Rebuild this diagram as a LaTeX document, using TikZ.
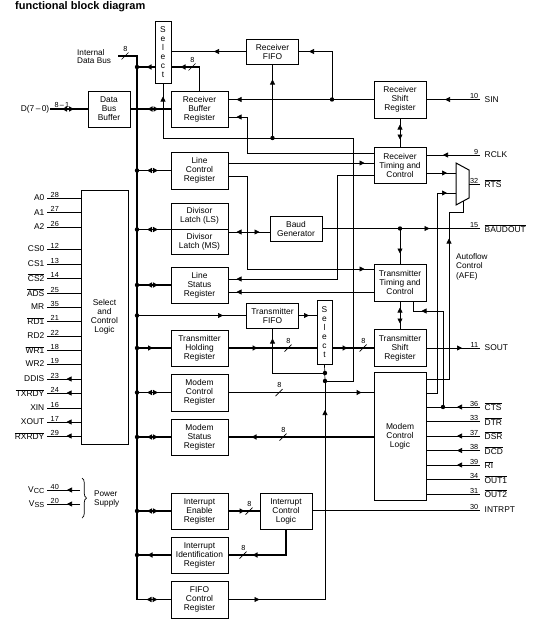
\documentclass[tikz,border=0pt]{standalone}
\usepackage{fontspec}
\setmainfont{Liberation Sans}
\usetikzlibrary{arrows.meta,calc,decorations.markings,decorations.pathreplacing}

\newcommand{\bfs}{\fontsize{8.4}{9}\selectfont}
\newcommand{\nfs}{\fontsize{7.3}{8}\selectfont}
\newcommand{\ovl}[1]{$\overline{\mbox{#1}}$}

\tikzset{
  tri/.tip={Triangle[length=5pt,width=5pt]},
  blk/.style={draw, line width=1pt, align=center, inner sep=1pt, font=\bfs},
  sig/.style={line width=0.7pt},
  bus/.style={line width=1.8pt},
  dot/.style={circle, fill, inner sep=0pt, minimum size=4.4pt},
  ar/.style={postaction={decorate,decoration={markings,mark=at position #1 with {\arrow{tri}}}}},
  ra/.style={postaction={decorate,decoration={markings,mark=at position #1 with {\arrowreversed{tri}}}}},
  pinl/.style={font=\bfs, inner sep=0.5pt},
  pinn/.style={font=\nfs, inner sep=0.5pt},
  bw/.pic={\draw[line width=0.7pt] (-3.5,3.5) -- (3.5,-3.5);
           \node[pinn, anchor=south] (-n) at (0.5,-4) {8};}
}

\begin{document}
\begin{tikzpicture}[x=1pt, y=-1pt, font=\bfs]
\path[use as bounding box, fill=white] (0,0) rectangle (535,621);

\node[font=\bfseries\fontsize{11}{13}\selectfont, anchor=west, inner sep=0pt] (title) at (15,7) {functional block diagram};

% blocks
\node[blk, minimum width=42, minimum height=36] (dbb) at (109,109) {Data\\Bus\\Buffer};
\node[blk, minimum width=16, minimum height=62] (sel1) at (163,52) {S\\e\\l\\e\\c\\t};
\node[blk, minimum width=57, minimum height=36] (rbr) at (199.5,109) {Receiver\\Buffer\\Register};
\node[blk, minimum width=52, minimum height=25] (rfifo) at (272.5,51.5) {Receiver\\FIFO};
\node[blk, minimum width=52, minimum height=37] (rsr) at (400,99.5) {Receiver\\Shift\\Register};
\node[blk, minimum width=52, minimum height=36] (rtc) at (400,165) {Receiver\\Timing and\\Control};
\node[blk, minimum width=57, minimum height=37] (lcr) at (199.5,170.5) {Line\\Control\\Register};
\node[blk, minimum width=57, minimum height=26] (dlls) at (199.5,216) {Divisor\\Latch (LS)};
\node[blk, minimum width=57, minimum height=25] (dlms) at (199.5,241.5) {Divisor\\Latch (MS)};
\node[blk, minimum width=52, minimum height=25] (baud) at (296,228.5) {Baud\\Generator};
\node[blk, minimum width=57, minimum height=36] (lsr) at (199.5,285) {Line\\Status\\Register};
\node[blk, minimum width=52, minimum height=37] (ttc) at (400,282.5) {Transmitter\\Timing and\\Control};
\node[blk, minimum width=52, minimum height=25] (tfifo) at (272.5,315.5) {Transmitter\\FIFO};
\node[blk, minimum width=15, minimum height=64] (sel2) at (324.5,332) {S\\e\\l\\e\\c\\t};
\node[blk, minimum width=57, minimum height=36] (thr) at (199.5,348) {Transmitter\\Holding\\Register};
\node[blk, minimum width=52, minimum height=37] (tsr) at (400,348) {Transmitter\\Shift\\Register};
\node[blk, minimum width=57, minimum height=37] (mcr) at (199.5,392.5) {Modem\\Control\\Register};
\node[blk, minimum width=52, minimum height=128] (mcl) at (400,436) {Modem\\Control\\Logic};
\node[blk, minimum width=57, minimum height=36] (msr) at (199.5,437) {Modem\\Status\\Register};
\node[blk, minimum width=57, minimum height=36] (ier) at (199.5,511) {Interrupt\\Enable\\Register};
\node[blk, minimum width=52, minimum height=36] (icl) at (286,511) {Interrupt\\Control\\Logic};
\node[blk, minimum width=57, minimum height=36] (iir) at (199.5,555) {Interrupt\\Identification\\Register};
\node[blk, minimum width=57, minimum height=37] (fcr) at (199.5,599.5) {FIFO\\Control\\Register};
\node[blk, minimum width=47, minimum height=254] (scl) at (104.5,317) {Select\\and\\Control\\Logic};

% RTS multiplexer
\draw[line width=1pt] (456,163) coordinate (mxtl) -- (469,170) -- (469,198) -- (456,205) -- cycle;
\coordinate (mxa) at (456,173);
\coordinate (mxb) at (456,193);
\coordinate (mxo) at (469,184);
\coordinate (mxs) at (463,201.2);

% internal data bus
\coordinate (ibus) at (118,56);
\coordinate (btop) at (137,56);
\draw[bus, ra=-24pt, ar=-13pt] (ibus) -- (btop) -- (fcr.west -| btop) -- (fcr.west);
\pic at (125,56) {bw};
\node[anchor=west, align=left, font=\fontsize{8.2}{7.5}\selectfont, inner sep=0pt] (ibl) at (77,56.5) {Internal\\Data Bus};

\foreach \b in {lcr,lsr,mcr,msr,ier} {
  \node[dot] (d\b) at (\b.west -| btop) {};
  \draw[bus, ra=10pt, ar=21pt] (d\b.center) -- (\b.west);
}
\node[dot] (ddl) at (dlls.south west -| btop) {};
\draw[bus, ra=10pt, ar=21pt] (ddl.center) -- (dlls.south west);
\node[dot] (dthr) at (thr.west -| btop) {};
\draw[bus, ar=16pt] (dthr.center) -- (thr.west);
\node[dot] (diir) at (iir.west -| btop) {};
\draw[bus, ar=23pt] (iir.west) -- (diir.center);
\node[dot] (dtf) at (tfifo.west -| btop) {};
\draw[sig, ar=86pt] (dtf.center) -- (tfifo.west);
\node[dot] (dsel) at (137,67) {};
\draw[bus, ar=8pt] (dsel -| sel1.west) -- (dsel.center);

% data bus buffer
\coordinate (pd) at (50,109);
\draw[bus, ra=12pt, ar=24pt] (pd) -- (dbb.west);
\draw[bus, ra=17pt, ar=28pt] (dbb.east) -- (rbr.west);
\node[pinl, anchor=east] (pdl) at (pd) {D(7\,--\,0)};
\node[pinn, anchor=south west] (pdn) at (54,108) {8\,--\,1};

% receiver side
\draw[bus, ar=-9pt] (rbr.north) |- (dsel -| sel1.east);
\pic at (192,67) {bw};
\draw[sig, ar=32pt] (rfifo.west) -- (rfifo.west -| sel1.east);
\node[dot] (drf) at (332,99.5) {};
\draw[sig, ar=-8pt] (rsr.west) -- (rsr.west -| rbr.east);
\draw[sig, ar=-10pt] (drf.center) |- (rfifo.east);
\draw[sig, ra=6pt, ar=21pt] (rsr.south) -- (rtc.north);
\draw[sig, ar=-8pt] (rtc.west |- 0,153) -| (247,117) -- (rbr.east |- 0,117);
\draw[sig, ar=-9pt] (lcr.east |- 0,163) -- (rtc.west |- 0,163);
\draw[sig, ar=-9pt] (lcr.east |- 0,176) -| (247,269) -- (ttc.west |- 0,269);
\draw[sig, ar=-8pt] (rtc.west |- 0,175.5) -| (337,279) -- (lsr.east |- 0,279);
\draw[sig, ar=-8pt] (ttc.west |- 0,292) -- (lsr.east |- 0,292);
\draw[sig, ar=-9pt] (rtc.east |- mxa) -- (mxa);

% baud generator
\draw[sig, ra=8pt, ar=-10pt] (dlms.east |- 0,232) -- (baud.west |- 0,232);
\node[dot] (dbo) at (400,228.5) {};
\draw[sig, ar=-10pt] (dbo.center) -- (ttc.north);

% transmitter side
\draw[sig, ra=6pt, ar=22pt] (ttc.south) -- (tsr.north);
\draw[bus, ar=29pt] (thr.east) -- (thr.east -| sel2.west);
\pic at (288,348) {bw};
\draw[bus, ar=15pt] (sel2.east |- tsr.west) -- (tsr.west);
\pic at (363,348) {bw};
\draw[sig, ar=10pt] (tfifo.east) -- (tfifo.east -| sel2.west);

% modem registers
\draw[bus, ar=-12pt] (mcr.east) -- (mcr.east -| mcl.west);
\pic at (279,392.5) {bw};
\draw[bus, ar=-23pt] (msr.east -| mcl.west) -- (msr.east);
\pic at (283,437) {bw};
\draw[sig, ar=-9pt] (mcl.east |- 0,393) -| (437,193) -- (mxb);
\draw[sig, ar=163pt] (mcl.east |- 0,379) -| (449,212) -| (mxs);
\node[anchor=north west, align=left, font=\fontsize{8.2}{9.5}\selectfont, inner sep=0pt] (afe) at (456,253) {Autoflow\\Control\\(AFE)};

% interrupts
\draw[bus, ar=16pt] (ier.east) -- (ier.east -| icl.west);
\pic at (249,511) {bw};
\draw[bus, ar=-24pt] (icl.south) |- (iir.east);
\pic at (243,555) {bw};

% FIFO control and select lines
\node[dot] (da) at (325,381) {};
\node[dot] (db) at (325,373) {};
\node[dot] (dr) at (272.5,138) {};
\draw[sig, ar=31pt, ar=-29pt] (fcr.east) -| (da.center);
\draw[sig] (da.center) -- (sel2.south);
\draw[sig, ar=-10pt] (db.center) -| (tfifo.south);
\draw[sig, ar=-13pt] (da.center) -| (353,138) -| (sel1.south);
\draw[sig, ar=-15pt] (dr.center) -- (rfifo.south);

% right pins
\coordinate (psin) at (480,99.5);
\coordinate (prclk) at (480,155);
\coordinate (prts) at (480,184);
\coordinate (pbo) at (480,228.5);
\coordinate (psout) at (480,348);
\coordinate (pint) at (480,510);
\draw[sig, ar=35pt] (psin) -- (rsr.east |- psin);
\draw[sig, ar=37pt] (prclk) -- (prclk -| rtc.east);
\draw[sig] (mxo) -- (prts);
\draw[sig, ar=107pt] (baud.east) -- (pbo);
\draw[sig, ar=-18pt] (tsr.east) -- (psout);
\draw[sig] (icl.east |- pint) -- (pint);
\foreach \p/\nn/\lbl in {psin/10/SIN, prclk/9/RCLK, prts/32/\ovl{RTS}, pbo/15/\ovl{BAUDOUT}, psout/11/SOUT, pint/30/INTRPT} {
  \node[pinn, anchor=south east] (n\p) at ($(\p)+(-1,0)$) {\nn};
  \node[pinl, anchor=west] (l\p) at ($(\p)+(4,0)$) {\lbl};
}

\foreach \yy/\nn/\lbl/\io [count=\k] in {407/36/\ovl{CTS}/1, 421.5/33/\ovl{DTR}/0, 436/37/\ovl{DSR}/1, 450.5/38/\ovl{DCD}/1, 465/39/\ovl{RI}/1, 479.5/34/\ovl{OUT1}/0, 494/31/\ovl{OUT2}/0} {
  \coordinate (pm\k) at (480,\yy);
  \ifnum\io=1
    \draw[sig, ar=23pt] (pm\k) -- (pm\k -| mcl.east);
  \else
    \draw[sig] (mcl.east |- pm\k) -- (pm\k);
  \fi
  \node[pinn, anchor=south east] (npm\k) at ($(pm\k)+(-1,0)$) {\nn};
  \node[pinl, anchor=west] (lpm\k) at ($(pm\k)+(4,0)$) {\lbl};
}
\node[dot] (dcts) at (443,407) {};
\draw[sig, ar=-18pt] (dcts.center) |- (413,311) -- (ttc.south -| 413,0);

% left pins
\foreach \yy/\nn/\lbl/\io [count=\k] in {198/28/A0/0, 212.5/27/A1/0, 227/26/A2/0, 249/12/CS0/0, 264/13/CS1/0, 278/14/\ovl{CS2}/0, 293/25/\ovl{ADS}/0, 307/35/MR/0, 321/21/\ovl{RD1}/0, 336/22/RD2/0, 350/18/\ovl{WR1}/0, 364/19/WR2/0, 379/23/DDIS/1, 393/24/\ovl{TXRDY}/1, 408/16/XIN/0, 422/17/XOUT/1, 436/29/\ovl{RXRDY}/1} {
  \coordinate (pl\k) at (47,\yy);
  \ifnum\io=1
    \draw[sig, ar=14pt] (scl.west |- pl\k) -- (pl\k);
  \else
    \draw[sig] (pl\k) -- (scl.west |- pl\k);
  \fi
  \node[pinn, anchor=south west] (npl\k) at ($(pl\k)+(3,0)$) {\nn};
  \node[pinl, anchor=east] (lpl\k) at ($(pl\k)+(-2,0)$) {\lbl};
}

% power supply
\coordinate (pvcc) at (47,490);
\coordinate (pvss) at (47,504);
\coordinate (pwr) at (80,0);
\draw[sig, ar=13pt] (pvcc -| pwr) -- (pvcc);
\draw[sig, ar=13pt] (pvss -| pwr) -- (pvss);
\node[pinn, anchor=south west] (nvcc) at ($(pvcc)+(3,0)$) {40};
\node[pinn, anchor=south west] (nvss) at ($(pvss)+(3,0)$) {20};
\node[pinl, anchor=east] (lvcc) at ($(pvcc)+(-2,0)$) {V\raisebox{-1.5pt}{\nfs CC}};
\node[pinl, anchor=east] (lvss) at ($(pvss)+(-2,0)$) {V\raisebox{-1.5pt}{\nfs SS}};
\draw[line width=0.7pt, decorate, decoration={brace, amplitude=4.5pt}] (82,478) -- (82,518);
\node[anchor=west, align=left, font=\fontsize{8.2}{9.3}\selectfont, inner sep=0pt] (psup) at (94,499) {Power\\Supply};
\end{tikzpicture}
\end{document}
